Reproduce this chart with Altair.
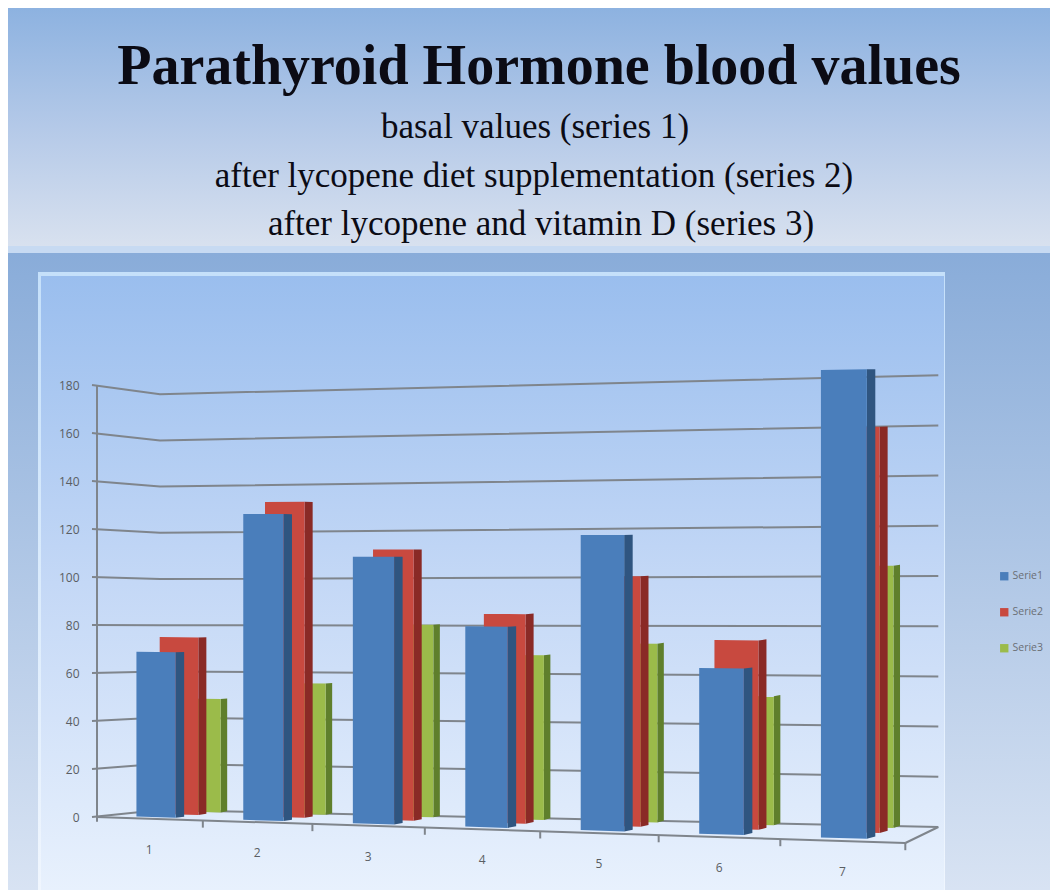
import altair as alt
import pandas as pd

# ---- values
categories = [1, 2, 3, 4, 5, 6, 7]
serie1 = [69, 126.5, 109, 81, 118, 65.5, 182.5]
serie2 = [75, 132, 112, 85.5, 101, 75.5, 160]
serie3 = [48.5, 55.5, 80.5, 68, 73, 52, 104.5]
y_ticks = [0, 20, 40, 60, 80, 100, 120, 140, 160, 180]
series_names = ["Serie1", "Serie2", "Serie3"]
title_lines = [
    "Parathyroid  Hormone  blood  values",
    "basal values  (series 1)",
    "after  lycopene diet  supplementation (series 2)",
    "after  lycopene and vitamin D (series 3)",
]

W, H = 1042, 882


# ---- the perspective box of the 3-D chart
def lerp(a, b, f):
    return a + (b - a) * f


def tt(u):
    return 105.5 * u / (1 - 0.0125 * u) / 809


def px(u, d):
    t = tt(u)
    return lerp(lerp(96, 905, t), lerp(160, 938, t), d)


def floor_y(u, d):
    t = tt(u)
    return lerp(lerp(817, 843, t), lerp(810, 827, t), d)


def scale_at(u, d):
    t = tt(u)
    return lerp(lerp(2.4, 2.6, t), lerp(2.31, 2.51, t), d)


def to_units(y):
    return (817 - y) / 2.4


def project(u, d, v):
    return px(u, d), to_units(floor_y(u, d) - v * scale_at(u, d))


# ---- bars as projected faces (painted back to front)
series_geo = [
    ("Serie3", serie3, 0.88, 6.5, "s3", 0.02),
    ("Serie2", serie2, 0.55, 8.0, "s2", 0.0),
    ("Serie1", serie1, 0.18, 8.5, "s1", 0.0),
]
rows = []
for name, vals, d, side, side_key, du in series_geo:
    for c, v in zip(categories, vals):
        ul, ur = c - 0.54 - 0.185 + du, c - 0.54 + 0.185 + du
        xl, top_l = project(ul, d, v)
        _, bot_l = project(ul, d, 0)
        xr, top_r = project(ur, d, v)
        _, bot_r = project(ur, d, 0)
        _, top_b = project(ur, d + 0.14, v)
        _, bot_b = project(ur, d + 0.14, 0)
        front = f"{name}-{c}-f"
        back = f"{name}-{c}-s"
        rows += [
            dict(face=back, key=side_key, x=xr, top=top_r, bot=bot_r),
            dict(face=back, key=side_key, x=xr + side, top=top_b, bot=bot_b),
            dict(face=front, key=name, x=xl, top=top_l, bot=bot_l),
            dict(face=front, key=name, x=xr, top=top_r, bot=bot_r),
        ]
faces = pd.DataFrame(rows)

# ---- gridlines on the two walls
grid_rows = []
for v in y_ticks:
    for i, (u, d) in enumerate([(0, 0), (0, 1), (7, 1)]):
        x, y = project(u, d, v)
        if i == 0:
            x -= 4
        grid_rows.append(dict(v=v, i=i, x=x, y=y))
grid = pd.DataFrame(grid_rows)

# ---- floor front edge, right edge, ticks
edge_rows = []
for name, pts in [("front", [(0, 0), (7, 0)]), ("right", [(7, 0), (7, 1)])]:
    for u, d in pts:
        x, y = project(u, d, 0)
        edge_rows.append(dict(e=name, x=x, y=y))
edge_rows += [dict(e="yaxis", x=97, y=-2), dict(e="yaxis", x=97, y=180)]
for c in categories:
    x, y = project(c, 0, 0)
    edge_rows += [dict(e=f"t{c}", x=x, y=y), dict(e=f"t{c}", x=x, y=y - 3)]
edges = pd.DataFrame(edge_rows)

labels = pd.DataFrame(
    [dict(c=str(c), x=project(c - 0.5, 0, 0)[0], y=project(c - 0.5, 0, 0)[1]) for c in categories]
)

x_scale = alt.Scale(domain=[8, 8 + W], nice=False, zero=False)
y_scale = alt.Scale(domain=[(817 - 890) / 2.4, (817 - 8) / 2.4], nice=False, zero=False)
y_axis = alt.Axis(
    values=y_ticks, offset=-88, domain=False, grid=False, ticks=False, title=None,
    labelFontSize=12, labelColor="#5a5e63", labelFont="Open Sans",
    labelPadding=17, zindex=1,
)
one = pd.DataFrame({"k": [0]})


def grad(stops):
    return alt.LinearGradient(
        gradient="linear",
        x1=0, x2=0, y1=0, y2=1,
        stops=[alt.GradientStop(color=c, offset=o) for o, c in stops],
    )


def panel(x0, x1, y0, y1, fill):
    return (
        alt.Chart(one)
        .mark_rect(fill=fill)
        .encode(
            x=alt.value(x0 - 8), x2=alt.value(x1 - 8),
            y=alt.value(y0 - 8), y2=alt.value(y1 - 8),
        )
    )


bg_low = panel(8, 1050, 253, 890, grad([(0, "#89acd9"), (1, "#d8e3f3")]))
bg_head = panel(8, 1050, 8, 246, grad([(0, "#8db2e0"), (0.5, "#b4c9e8"), (1, "#d8e1ef")]))
bg_strip = panel(8, 1050, 246, 253, "#c7daf2")
bg_frame = panel(38, 945, 272, 890, grad([(0, "#c5e0fa"), (1, "#f0f6fe")]))
bg_panel = panel(41, 944, 276, 890, grad([(0, "#9abeee"), (0.5, "#c4d8f6"), (1, "#e8f1fd")]))

grid_layer = (
    alt.Chart(grid)
    .mark_line(color="#7f858c", strokeWidth=2)
    .encode(
        x=alt.X("x:Q", scale=x_scale, axis=None),
        y=alt.Y("y:Q", scale=y_scale, axis=y_axis),
        detail="v:N",
        order="i:Q",
    )
)
edge_layer = (
    alt.Chart(edges)
    .mark_line(color="#7f858c", strokeWidth=2)
    .encode(
        x=alt.X("x:Q", scale=x_scale, axis=None),
        y=alt.Y("y:Q", scale=y_scale, axis=y_axis),
        detail="e:N",
    )
)
face_layer = (
    alt.Chart(faces)
    .mark_area(orient="vertical", opacity=1, interpolate="linear")
    .encode(
        x=alt.X("x:Q", scale=x_scale, axis=None),
        y=alt.Y("top:Q", scale=y_scale, axis=y_axis, stack=None),
        y2="bot:Q",
        detail="face:N",
        color=alt.Color(
            "key:N",
            scale=alt.Scale(
                domain=series_names + ["s1", "s2", "s3"],
                range=["#4a7ebb", "#c8493f", "#9bbb4a", "#2f5580", "#8a2a26", "#5f7f2c"],
            ),
            legend=alt.Legend(
                values=series_names, title=None, orient="none",
                legendX=991, legendY=563, symbolType="square", symbolSize=70,
                symbolStrokeWidth=0, rowPadding=25, labelFontSize=10.5,
                labelColor="#6b6f75", labelFont="Open Sans", labelOffset=3,
                padding=0,
            ),
        ),
    )
)
cat_layer = (
    alt.Chart(labels)
    .mark_text(fontSize=12, font="Open Sans", color="#5a5e63", dy=31)
    .encode(
        x=alt.X("x:Q", scale=x_scale, axis=None),
        y=alt.Y("y:Q", scale=y_scale, axis=y_axis),
        text="c:N",
    )
)


def line(text, cx, cy, size, bold=False):
    return (
        alt.Chart(one)
        .mark_text(
            text=text, fontSize=size, font="Liberation Serif",
            fontWeight="bold" if bold else "normal",
            color="#0b0b14", align="center", baseline="alphabetic",
        )
        .encode(x=alt.value(cx - 8), y=alt.value(cy - 8))
    )


titles = [
    line(title_lines[0], 539, 84, 56, True),
    line(title_lines[1], 535, 138, 35),
    line(title_lines[2], 534, 187, 35),
    line(title_lines[3], 541, 235, 35),
]

chart = alt.layer(
    bg_low, bg_head, bg_strip, bg_frame, bg_panel,
    grid_layer, edge_layer, face_layer, cat_layer, *titles,
).properties(
    width=W, height=H, padding=0,
    autosize=alt.AutoSizeParams(type="none"),
).configure_view(stroke=None)

chart.save("out.html", embed_options={"renderer": "svg", "actions": False})
